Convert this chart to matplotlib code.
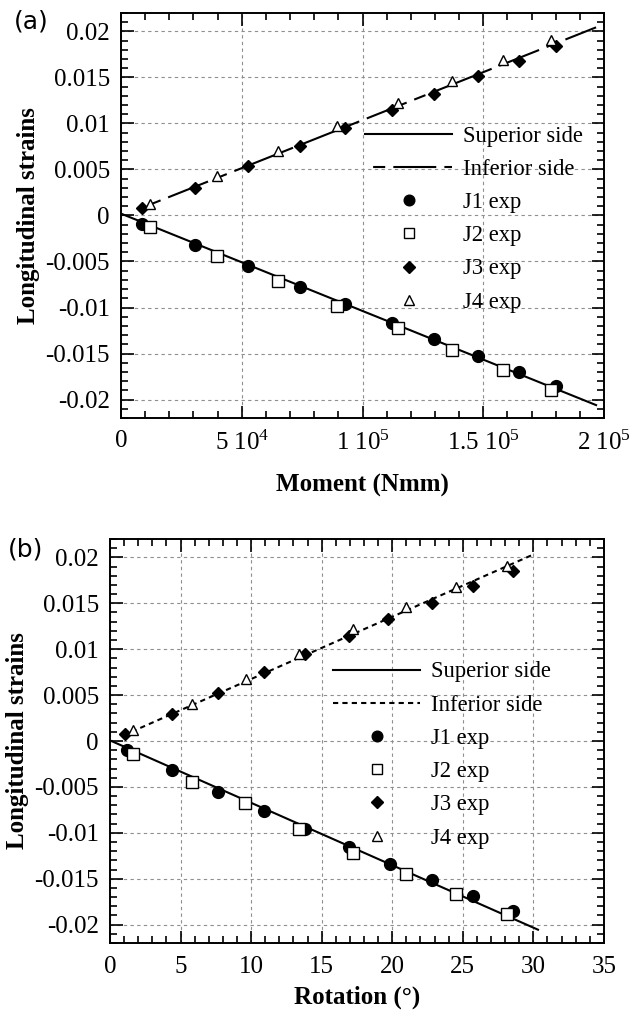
import matplotlib
matplotlib.use("Agg")
import matplotlib.pyplot as plt
from matplotlib.ticker import MultipleLocator, FixedLocator, FixedFormatter

plt.rcParams['font.family'] = ['Liberation Serif', 'DejaVu Serif']
plt.rcParams['mathtext.fontset'] = 'custom'
plt.rcParams['mathtext.rm'] = 'Liberation Serif'
plt.rcParams['mathtext.it'] = 'Liberation Serif:italic'
plt.rcParams['mathtext.bf'] = 'Liberation Serif:bold'
plt.rcParams['axes.unicode_minus'] = False

# ---- panel (a): strain vs moment (Nmm) ----
moment_j1 = [8600, 30500, 52600, 74200, 92600, 112400, 129500, 147700, 164800, 180100]
strain_j1_a = [-0.00098, -0.00316, -0.00552, -0.00777, -0.0096, -0.01164,
               -0.01345, -0.01527, -0.01698, -0.01855]
moment_j2 = [11950, 39800, 65100, 89600, 114500, 137100, 158200, 178100]
strain_j2_a = [-0.00123, -0.00443, -0.00715, -0.0098, -0.01225, -0.01462,
               -0.0168, -0.01891]
moment_j3 = [8600, 30500, 52600, 74200, 92900, 112000, 129500, 147700, 164800, 180100]
strain_j3_a = [0.00083, 0.00301, 0.00537, 0.00755, 0.00955, 0.01147,
               0.01325, 0.01517, 0.0168, 0.01844]
moment_j4 = [11950, 39800, 65100, 89600, 114500, 137100, 158200, 178100]
strain_j4_a = [0.0012, 0.00428, 0.007, 0.00973, 0.0122, 0.01463, 0.01688, 0.01909]
moment_sup = [0, 196700]
strain_sup_a = [0.0002, -0.0206]
moment_inf = [8600, 196700]
strain_inf_a = [0.00083, 0.02044]
moment_ticks = [0, 50000, 100000, 150000, 200000]
moment_tick_labels = ['0', '5 10$^{4}$', '1 10$^{5}$', '1.5 10$^{5}$', '2 10$^{5}$']

# ---- panel (b): strain vs rotation (deg) ----
rot_j1 = [1.24, 4.38, 7.66, 10.88, 13.80, 16.96, 19.87, 22.84, 25.75, 28.58]
strain_j1_b = [-0.00095, -0.0032, -0.00556, -0.00767, -0.00957, -0.01151,
               -0.01334, -0.01517, -0.01689, -0.01847]
rot_j2 = [1.64, 5.82, 9.55, 13.37, 17.19, 21.0, 24.54, 28.16]
strain_j2_b = [-0.00138, -0.00447, -0.00676, -0.00961, -0.01224, -0.01451,
               -0.01664, -0.01883]
rot_j3 = [1.07, 4.38, 7.66, 10.88, 13.85, 16.91, 19.73, 22.79, 25.75, 28.58]
strain_j3_b = [0.0008, 0.00298, 0.00524, 0.00753, 0.00945, 0.01142,
               0.01327, 0.01505, 0.01687, 0.01851]
rot_j4 = [1.64, 5.82, 9.64, 13.37, 17.25, 21.0, 24.54, 28.16]
strain_j4_b = [0.00116, 0.00407, 0.0068, 0.00953, 0.01225, 0.01462, 0.01673, 0.01905]
rot_sup = [0, 30.33]
strain_sup_b = [0.00007, -0.02055]
rot_inf = [0.93, 29.9]
strain_inf_b = [0.0006, 0.02025]

strain_ticks = [-0.02, -0.015, -0.01, -0.005, 0, 0.005, 0.01, 0.015, 0.02]
strain_tick_labels = ['-0.02', '-0.015', '-0.01', '-0.005', '0', '0.005', '0.01', '0.015', '0.02']

FS = 18       # ticks and axis labels
FS_LEG = 16.3  # legend text


def style_axes(ax):
    ax.set_ylim(-0.022, 0.022)
    ax.yaxis.set_major_locator(FixedLocator(strain_ticks))
    ax.yaxis.set_major_formatter(FixedFormatter(strain_tick_labels))
    ax.yaxis.set_minor_locator(MultipleLocator(0.001))
    ax.tick_params(which='both', direction='in', top=True, right=True,
                   labelsize=FS, width=1.2)
    ax.tick_params(which='major', length=9)
    ax.tick_params(which='minor', length=5)
    ax.tick_params(axis='x', pad=9)
    ax.tick_params(axis='y', pad=8)
    for sp in ax.spines.values():
        sp.set_linewidth(1.4)
    ax.grid(True, which='major', color='#8f8f8f', linestyle=(0, (3, 3)), linewidth=0.8)
    ax.set_axisbelow(True)
    ax.set_ylabel('Longitudinal strains', fontsize=FS, fontweight='bold', labelpad=4)


def plot_panel(ax, series, inf_style):
    (x1, y1), (x2, y2), (x3, y3), (x4, y4), (xs, ys), (xi, yi) = series
    ax.plot(xs, ys, color='black', lw=1.5, label='Superior side')
    ax.plot(xi, yi, color='black', lw=1.5, linestyle=inf_style, label='Inferior side')
    ax.plot(x1, y1, 'o', color='black', ms=8.5, ls='none', label='J1 exp')
    ax.plot(x2, y2, 's', mfc='white', mec='black', mew=1.0, ms=8.5, ls='none', label='J2 exp')
    ax.plot(x3, y3, 'D', color='black', ms=6.5, ls='none', label='J3 exp')
    ax.plot(x4, y4, '^', mfc='white', mec='black', mew=1.0, ms=7.5, ls='none', label='J4 exp')


def add_legend(ax, anchor):
    ax.legend(loc='upper left', bbox_to_anchor=anchor, frameon=False,
              fontsize=FS_LEG, handlelength=3.85, handletextpad=0.48,
              labelspacing=0.54, borderpad=0, borderaxespad=0, markerscale=0.9)


fig = plt.figure(figsize=(6.3, 10.14), dpi=100)

# panel (a)
ax1 = fig.add_axes([0.1921, 0.5878, 0.7667, 0.3994])
plot_panel(ax1, [(moment_j1, strain_j1_a), (moment_j2, strain_j2_a),
                 (moment_j3, strain_j3_a), (moment_j4, strain_j4_a),
                 (moment_sup, strain_sup_a), (moment_inf, strain_inf_a)],
           (20.6, (20.6, 3.9, 5.8, 3.9)))
style_axes(ax1)
ax1.set_xlim(0, 200000)
ax1.xaxis.set_major_locator(FixedLocator(moment_ticks))
ax1.xaxis.set_major_formatter(FixedFormatter(moment_tick_labels))
ax1.xaxis.set_minor_locator(MultipleLocator(10000))
ax1.set_xlabel('Moment (Nmm)', fontsize=FS, fontweight='bold', labelpad=14)
add_legend(ax1, (0.505, 0.722))

# panel (b)
ax2 = fig.add_axes([0.1746, 0.0700, 0.7840, 0.3984])
plot_panel(ax2, [(rot_j1, strain_j1_b), (rot_j2, strain_j2_b),
                 (rot_j3, strain_j3_b), (rot_j4, strain_j4_b),
                 (rot_sup, strain_sup_b), (rot_inf, strain_inf_b)],
           (0, (2.5, 2)))
style_axes(ax2)
ax2.set_xlim(0, 35)
ax2.xaxis.set_major_locator(MultipleLocator(5))
ax2.xaxis.set_minor_locator(MultipleLocator(1))
ax2.set_xlabel('Rotation (°)', fontsize=FS, fontweight='bold', labelpad=6)
add_legend(ax2, (0.452, 0.697))

fig.text(0.022, 0.979, '(a)', fontsize=18, family='DejaVu Sans', va='center')
fig.text(0.012, 0.4576, '(b)', fontsize=18, family='DejaVu Sans', va='center')

fig.savefig('out.png', dpi=100)
